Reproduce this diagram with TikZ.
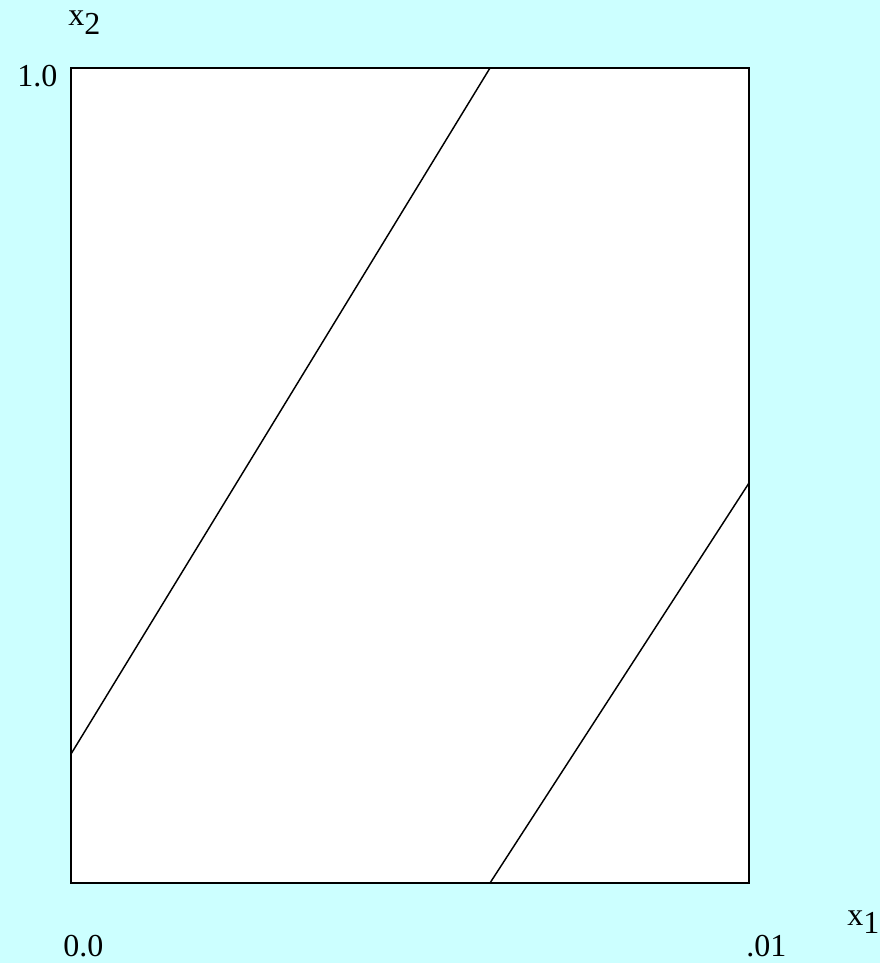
\documentclass[tikz,border=0pt]{standalone}
\usepackage{fontspec}
\setmainfont{Liberation Serif}
\usepackage{xcolor}
\usepackage{tikz}
\usetikzlibrary{positioning, calc}
\definecolor{bgcyan}{RGB}{204, 255, 255}

\begin{document}
\begin{tikzpicture}[
    x=0.75pt, y=-0.75pt,
    lbl/.style={inner sep=0pt, anchor=base west, font=\fontsize{24}{28}\selectfont},
    frame/.style={draw=black, line width=1.5pt, fill=white},
    orbit/.style={draw=black, line width=1.1pt}
]

% Background
\fill[bgcyan] (0,0) rectangle (880,963);
\useasboundingbox (0,0) rectangle (880,963);

% Unit box
\draw[frame] (71,68) rectangle (749,883);

% Corner points
\coordinate (a1) at (71,754);
\coordinate (a2) at (490,68);
\coordinate (b1) at (490,883);
\coordinate (b2) at (749,483);

% Lines
\draw[orbit] (a1) -- (a2);
\draw[orbit] (b1) -- (b2);

% Labels
\node[lbl] (ylab) at (68,26)  {x\raisebox{-0.28em}{2}};
\node[lbl] (ymax) at (17,87)  {1.0};
\node[lbl] (xmin) at (63,956) {0.0};
\node[lbl] (xmax) at (746,956) {.01};
\node[lbl] (xlab) at (847,925) {x\raisebox{-0.28em}{1}};

\end{tikzpicture}
\end{document}
